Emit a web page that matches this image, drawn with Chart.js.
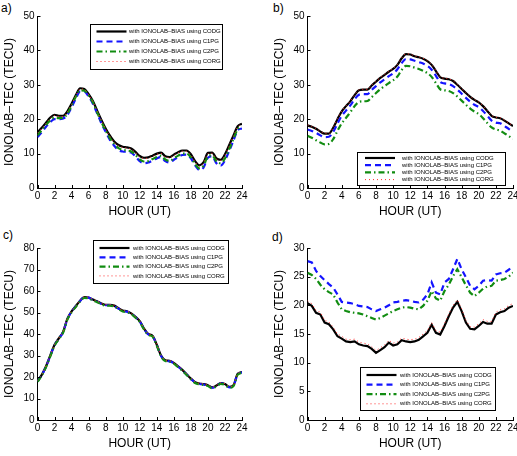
<!DOCTYPE html>
<html><head><meta charset="utf-8">
<script src="https://cdn.jsdelivr.net/npm/chart.js@4.4.1/dist/chart.umd.min.js"></script>
<style>
body{margin:0;width:517px;height:456px;overflow:hidden;background:#fff;position:relative;font-family:"Liberation Sans",Arial,Helvetica,sans-serif}
canvas{position:absolute}
.lbl{position:absolute;font-size:12px;color:#000;line-height:12px}
</style></head><body>
<div class="lbl" style="left:1px;top:2px">a)</div>
<div class="lbl" style="left:273px;top:2px">b)</div>
<div class="lbl" style="left:3px;top:229px">c)</div>
<div class="lbl" style="left:272px;top:231px">d)</div>
<canvas id="ca" width="256" height="224" style="left:0;top:0"></canvas>
<canvas id="cb" width="247" height="224" style="left:270px;top:0"></canvas>
<canvas id="cc" width="256" height="224" style="left:0;top:232px"></canvas>
<canvas id="cd" width="247" height="224" style="left:270px;top:232px"></canvas>
<script>
const hours = [0,0.5,1,1.5,2,2.5,3,3.5,4,4.5,5,5.5,6,6.5,7,7.5,8,8.5,9,9.5,10,10.5,11,11.5,12,12.5,13,13.5,14,14.5,15,15.5,16,16.5,17,17.5,18,18.5,19,19.5,20,20.5,21,21.5,22,22.5,23,23.5,24];
const xTicks = [0,2,4,6,8,10,12,14,16,18,20,22,24];
const yTicksAB = [0,10,20,30,40,50];
const yTicksC = [0,10,20,30,40,50,60,70,80];
const yTicksD = [0,5,10,15,20,25,30];
const seriesNames = ['with IONOLAB–BIAS using CODG','with IONOLAB–BIAS using C1PG','with IONOLAB–BIAS using C2PG','with IONOLAB–BIAS using CORG'];
const xTitle = 'HOUR (UT)';
const yTitle = 'IONOLAB–TEC (TECU)';

// panel a
const a_CODG = [16.2,17.5,19.0,20.5,21.3,21.0,21.0,22.3,24.5,27.0,29.0,28.8,27.3,25.3,22.5,19.8,17.3,15.2,13.5,12.5,12.0,11.8,11.5,10.5,9.3,8.8,8.9,9.4,10.0,10.3,9.2,9.0,9.7,10.4,10.9,10.9,9.8,7.8,6.6,7.5,10.2,10.3,8.6,8.2,9.8,12.5,15.3,18.0,18.7];
const a_C1PG = [14.8,16.2,17.8,19.2,20.0,20.0,20.2,21.2,23.5,26.0,28.0,28.0,26.6,24.5,21.7,18.8,16.3,14.0,12.3,11.0,10.6,10.5,10.3,9.2,7.8,7.2,7.4,8.0,8.6,9.0,7.8,7.4,8.2,9.0,9.6,9.7,8.6,6.6,5.3,6.0,8.8,9.2,7.2,6.5,8.0,10.8,13.8,16.8,17.3];
const a_C2PG = [15.3,16.8,18.3,19.7,20.4,20.3,20.4,21.6,23.9,26.5,28.4,28.3,26.9,24.9,22.0,19.2,16.7,14.5,12.8,11.6,11.1,10.9,10.6,9.6,8.3,7.7,7.8,8.4,9.0,9.4,8.3,7.9,8.6,9.4,10.0,10.0,8.9,6.9,5.7,6.5,9.2,9.5,7.7,7.2,8.6,11.3,14.3,17.1,17.7];
const a_CORG = [16.0,17.3,18.8,20.3,21.1,20.8,20.8,22.1,24.3,26.8,28.8,28.6,27.1,25.1,22.3,19.6,17.1,15.0,13.3,12.3,11.8,11.6,11.3,10.3,9.1,8.6,8.7,9.2,9.8,10.1,9.0,8.8,9.5,10.2,10.7,10.7,9.6,7.6,6.4,7.3,10.0,10.1,8.4,8.0,9.6,12.3,15.1,17.8,18.5];

// panel b
const b_CODG = [18.2,17.8,17.2,16.4,15.8,15.8,17.5,20.0,22.3,23.8,25.2,27.0,28.4,28.6,28.6,29.8,30.9,32.0,32.9,33.8,34.6,35.8,37.7,38.9,38.8,38.3,38.0,37.6,36.9,35.8,34.0,32.2,31.8,31.6,31.1,30.0,28.8,27.6,26.5,25.6,24.9,23.8,22.4,21.0,20.5,20.3,19.6,18.8,18.0];
const b_C1PG = [17.0,16.6,16.0,15.3,14.8,14.9,16.3,18.7,21.0,22.5,24.0,25.8,27.1,27.3,27.3,28.5,29.6,30.7,31.6,32.5,33.3,34.5,36.3,37.5,37.4,37.0,36.6,36.2,35.5,34.4,32.6,30.8,30.4,30.2,29.6,28.6,27.4,26.2,25.1,24.2,23.5,22.4,21.0,19.6,19.0,18.8,18.0,17.2,16.3];
const b_C2PG = [15.2,14.6,13.9,13.2,12.7,12.8,14.2,16.6,18.8,20.4,22.0,23.8,25.0,25.2,25.3,26.4,27.6,28.7,29.6,30.5,31.3,32.4,34.3,35.5,35.4,35.0,34.6,34.1,33.4,32.3,30.5,28.7,28.4,28.2,27.6,26.6,25.4,24.2,23.1,22.2,21.5,20.3,18.9,17.6,17.0,16.7,15.9,15.1,14.3];
const b_CORG = [18.3,17.9,17.3,16.5,15.9,15.9,17.6,20.1,22.4,23.9,25.3,27.1,28.5,28.7,28.7,29.9,31.0,32.1,33.0,33.9,34.7,35.9,37.8,39.0,38.9,38.4,38.1,37.7,37.0,35.9,34.1,32.3,31.9,31.7,31.2,30.1,28.9,27.7,26.6,25.7,25.0,23.9,22.5,21.1,20.6,20.4,19.7,18.9,18.1];

// panel c
const c_CODG = [18.2,21.0,25.0,30.0,35.0,38.0,41.0,47.0,50.5,53.0,55.5,57.2,57.0,56.0,55.2,54.2,53.6,53.6,53.2,52.0,50.9,50.6,49.6,48.0,46.0,42.5,40.0,39.2,35.0,30.0,27.8,27.5,26.6,25.0,23.3,21.3,19.3,17.6,17.0,16.7,16.2,15.2,16.0,17.2,16.8,15.4,16.2,21.5,22.3];
const c_C1PG = [18.0,20.9,24.8,29.9,34.8,37.9,40.8,46.8,50.4,52.9,55.4,57.1,56.9,55.9,55.0,54.0,53.4,53.4,53.0,51.8,50.7,50.4,49.4,47.8,45.8,42.3,39.8,39.0,34.8,29.8,27.6,27.3,26.4,24.8,23.1,21.1,19.1,17.4,16.8,16.5,16.0,15.0,15.8,17.0,16.6,15.2,16.0,21.3,22.1];
const c_C2PG = [17.8,20.7,24.6,29.6,34.6,37.6,40.6,46.6,50.1,52.6,55.1,56.8,56.6,55.6,54.8,53.8,53.2,53.2,52.8,51.6,50.5,50.2,49.2,47.6,45.6,42.1,39.6,38.8,34.6,29.6,27.4,27.1,26.2,24.6,22.9,20.9,18.9,17.2,16.6,16.3,15.8,14.8,15.6,16.8,16.4,15.0,15.8,21.1,21.9];
const c_CORG = [18.3,21.1,25.1,30.1,35.1,38.1,41.1,47.1,50.6,53.1,55.6,57.3,57.1,56.1,55.3,54.3,53.7,53.7,53.3,52.1,51.0,50.7,49.7,48.1,46.1,42.6,40.1,39.3,35.1,30.1,27.9,27.6,26.7,25.1,23.4,21.4,19.4,17.7,17.1,16.8,16.3,15.3,16.1,17.3,16.9,15.5,16.3,21.6,22.4];

// panel d
const d_CODG = [20.4,19.9,18.7,18.4,17.0,16.7,15.8,14.6,14.2,13.7,13.6,13.7,13.2,13.0,12.9,12.4,11.7,12.2,12.7,13.5,13.0,13.2,13.9,13.7,13.6,13.7,14.0,14.6,15.2,16.6,15.2,14.9,16.4,18.1,19.6,20.6,19.0,17.0,15.9,15.8,16.4,17.1,16.8,16.8,18.4,18.8,19.0,19.6,19.9];
const d_C1PG = [27.7,27.5,26.0,25.1,24.4,23.7,23.1,21.9,20.6,20.5,20.4,20.2,19.9,19.8,19.7,19.3,19.0,19.3,19.6,20.0,20.5,20.6,20.8,20.9,20.8,20.6,20.5,21.0,21.9,24.0,22.2,21.9,24.0,24.6,26.3,28.1,26.3,24.9,23.4,22.8,23.4,24.3,24.4,24.3,25.4,25.6,25.7,26.2,26.9];
const d_C2PG = [25.7,25.3,24.6,23.6,22.8,22.3,21.9,20.5,19.3,19.0,18.8,18.7,18.6,18.4,18.1,17.8,17.5,17.8,18.2,18.6,19.0,19.3,19.6,19.7,19.6,19.4,19.3,19.9,20.8,22.5,21.2,20.8,22.5,23.6,25.1,26.3,24.9,23.5,22.2,21.6,22.2,22.9,23.3,23.4,24.3,24.4,24.6,25.0,25.7];
const d_CORG = [20.8,20.3,19.1,18.8,17.4,17.1,16.2,15.0,14.6,14.1,14.0,14.1,13.6,13.4,13.3,12.8,12.1,12.6,13.1,13.9,13.4,13.6,14.3,14.1,14.0,14.1,14.4,15.0,15.6,17.0,15.6,15.3,16.8,18.5,20.0,21.0,19.4,17.4,16.3,16.2,16.8,17.5,17.2,17.2,18.8,19.2,19.4,20.0,20.3];

const FONT = '"Liberation Sans", Arial, Helvetica, sans-serif';
const styles = [
  {borderColor:'#000000', borderWidth:2.2, borderDash:[], order:4},
  {borderColor:'#1414ff', borderWidth:2.2, borderDash:[6,4], order:3},
  {borderColor:'#118c11', borderWidth:2.2, borderDash:[6,3,1.5,3], order:2},
  {borderColor:'#ff3030', borderWidth:1, borderDash:[1,3], order:1}
];

const inTicks = {
  id:'inTicks',
  afterDatasetsDraw(chart){
    const {ctx, chartArea, scales:{x,y}} = chart;
    ctx.save(); ctx.strokeStyle='#000'; ctx.lineWidth=1; ctx.setLineDash([]);
    ctx.beginPath();
    x.ticks.forEach(t=>{const px=Math.round(x.getPixelForValue(t.value))+0.5; ctx.moveTo(px,chartArea.bottom); ctx.lineTo(px,chartArea.bottom-3);});
    y.ticks.forEach(t=>{const py=Math.round(y.getPixelForValue(t.value))+0.5; ctx.moveTo(chartArea.left,py); ctx.lineTo(chartArea.left+3,py);});
    ctx.stroke(); ctx.restore();
  }
};

const boxLegend = {
  id:'boxLegend',
  afterDraw(chart, args, o){
    const ctx = chart.ctx;
    ctx.save();
    ctx.fillStyle='#fff'; ctx.fillRect(o.x,o.y,o.w,o.h);
    ctx.strokeStyle='#000'; ctx.lineWidth=1; ctx.setLineDash([]);
    ctx.strokeRect(o.x+0.5,o.y+0.5,o.w,o.h);
    ctx.font = o.fontSize+'px '+FONT; ctx.textBaseline='middle'; ctx.textAlign='left';
    chart.data.datasets.forEach((ds,i)=>{
      const cy = o.y + o.first + i*o.gap;
      ctx.strokeStyle = ds.borderColor; ctx.lineWidth = ds.borderWidth; ctx.setLineDash(ds.borderDash);
      ctx.beginPath(); ctx.moveTo(o.x+o.lineX, cy); ctx.lineTo(o.x+o.lineX+o.lineW, cy); ctx.stroke();
      ctx.fillStyle='#000'; ctx.fillText(ds.label, o.x+o.textX, cy);
    });
    ctx.restore();
  }
};

function makeChart(id, series, yTicks, yMax, rightPad, legend, tension){
  const datasets = series.map((arr,i)=>Object.assign({
    label: seriesNames[i],
    data: hours.map((h,k)=>({x:h,y:arr[k]})),
    pointRadius:0, fill:false, tension: tension,
    cubicInterpolationMode: tension>0 ? 'monotone' : 'default'
  }, styles[i]));
  new Chart(document.getElementById(id), {
    type:'line',
    data:{datasets},
    plugins:[inTicks, boxLegend],
    options:{
      responsive:false, animation:false, devicePixelRatio:1,
      layout:{padding:{top:16,right:rightPad,left:0,bottom:0}},
      plugins:{legend:{display:false}, tooltip:{enabled:false}, boxLegend:legend},
      scales:{
        x:{type:'linear', min:0, max:24,
          afterBuildTicks:s=>{s.ticks = xTicks.map(v=>({value:v}));},
          afterFit:s=>{s.height=36; s.paddingLeft=0; s.paddingRight=0;},
          grid:{display:false, drawTicks:false},
          border:{display:true, color:'#000', width:1},
          ticks:{color:'#000', padding:2, font:{family:FONT,size:10}, maxRotation:0, autoSkip:false},
          title:{display:true, text:xTitle, color:'#000', font:{family:FONT,size:12,lineHeight:1.2}, padding:{top:0,bottom:4.8}}
        },
        y:{type:'linear', min:0, max:yMax,
          afterBuildTicks:s=>{s.ticks = yTicks.map(v=>({value:v}));},
          afterFit:s=>{s.width=37.5; s.paddingTop=0; s.paddingBottom=0;},
          grid:{display:false, drawTicks:false},
          border:{display:true, color:'#000', width:1},
          ticks:{color:'#000', padding:3, font:{family:FONT,size:10}, autoSkip:false},
          title:{display:true, text:yTitle, color:'#000', font:{family:FONT,size:12,lineHeight:1.2}, padding:{top:2.1,bottom:0}}
        }
      }
    }
  });
}

const legA = {x:90, y:24, w:132, h:45, first:7.5, gap:10, lineX:6.5, lineW:30, textX:39, fontSize:6};
const legB = {x:87, y:152, w:148, h:33, first:6, gap:7.2, lineX:8, lineW:30, textX:45, fontSize:6};
const legC = {x:93, y:8, w:135, h:43, first:8, gap:9.3, lineX:6.5, lineW:30, textX:40, fontSize:6};
const legD = {x:90, y:135, w:135, h:43, first:8, gap:9.6, lineX:6.5, lineW:30, textX:40, fontSize:6};

makeChart('ca', [a_CODG,a_C1PG,a_C2PG,a_CORG], yTicksAB, 50, 14, legA, 0.4);
makeChart('cb', [b_CODG,b_C1PG,b_C2PG,b_CORG], yTicksAB, 50, 4, legB, 0.4);
makeChart('cc', [c_CODG,c_C1PG,c_C2PG,c_CORG], yTicksC, 80, 14, legC, 0.4);
makeChart('cd', [d_CODG,d_C1PG,d_C2PG,d_CORG], yTicksD, 30, 4, legD, 0);
</script>
</body></html>
